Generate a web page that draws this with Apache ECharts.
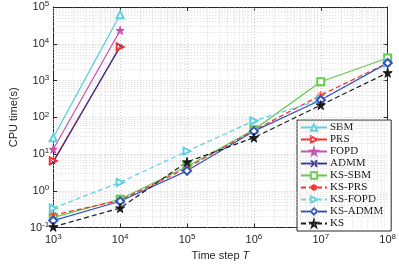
<!DOCTYPE html>
<html><head><meta charset="utf-8">
<script src="https://cdn.jsdelivr.net/npm/echarts@6/dist/echarts.min.js"></script>
<style>html,body{margin:0;padding:0;background:#fff}#c{width:399px;height:266px}</style>
</head><body><div id="c"></div>
<script>
const steps = [1e3, 1e4, 1e5, 1e6, 1e7, 1e8];
const xTicks = [1e3, 1e4, 1e5, 1e6, 1e7, 1e8];
const yTicks = [1e-1, 1e0, 1e1, 1e2, 1e3, 1e4, 1e5];
const SBM = [28, 62000];
const PRS = [6.5, 8200];
const FOPD = [13.5, 23000];
const ADMM = [6.0, 8500];
const KS_SBM = [0.19, 0.59, 4.6, 46, 930, 4100];
const KS_PRS = [0.22, 0.55, 4.2, 44, 400, 3000];
const KS_FOPD = [0.34, 1.7, 12, 80, 300, 3000];
const KS_ADMM = [0.155, 0.52, 3.5, 42, 295, 3000];
const KS = [0.105, 0.34, 6.1, 28, 215, 1630];

const pair = (arr) => arr.map((v, i) => [steps[i], v]);
const minorX = [], minorY = [];
for (let e = 3; e < 8; e++) for (let k = 2; k <= 9; k++) minorX.push(k * Math.pow(10, e));
for (let e = -1; e < 5; e++) for (let k = 2; k <= 9; k++) minorY.push(k * Math.pow(10, e));

const asterisk = 'path://M5,0L5,10M0,5L10,5M1.5,1.5L8.5,8.5M8.5,1.5L1.5,8.5';
const xmark = 'path://M0,0L10,10M10,0L0,10';
const star = 'path://M50,0L61,35L98,35L68,57L79,91L50,70L21,91L32,57L2,35L39,35Z';
const txt = '#262626';
const supFmt = (v) => '{b|10}{s|' + Math.round(Math.log10(v)) + '}';
const rich = { b: { fontSize: 11, color: txt, fontFamily: 'Liberation Sans' }, s: { fontSize: 8, color: txt, fontFamily: 'Liberation Sans', verticalAlign: 'top', padding: [0, 0, 6, 0] } };

function S(name, data, color, symbol, opts) {
  opts = opts || {};
  return {
    name, type: 'line', data: pair(data), symbol, symbolSize: opts.size || 7,
    symbolRotate: opts.rot || 0, showAllSymbol: true,
    lineStyle: { color, width: 1.2, type: opts.dash ? [5, 3] : 'solid' },
    itemStyle: { color, borderColor: color, borderWidth: 1 },
    z: 5
  };
}

const series = [
  S('SBM', SBM, '#5cd0e3', 'emptyTriangle'),
  S('PRS', PRS, '#ff2a2a', 'emptyTriangle', { rot: -90 }),
  S('FOPD', FOPD, '#c64fae', star, { size: 8 }),
  S('ADMM', ADMM, '#34349a', xmark, { size: 4 }),
  S('KS-SBM', KS_SBM, '#62c94a', 'emptyRect', { size: 7 }),
  S('KS-PRS', KS_PRS, '#ff2a2a', asterisk, { dash: true, size: 8 }),
  S('KS-FOPD', KS_FOPD, '#5cd0e3', 'emptyTriangle', { dash: true, rot: -90 }),
  S('KS-ADMM', KS_ADMM, '#3352c0', 'emptyDiamond', { size: 8 }),
  S('KS', KS, '#1a1a1a', star, { dash: true, size: 9 })
];

const gridLine = { color: '#cfcfcf', width: 0.8, type: [1, 2] };
series.push({
  type: 'line', data: [], silent: true, z: 1,
  markLine: { silent: true, symbol: 'none', animation: false, label: { show: false }, lineStyle: gridLine,
    data: minorX.map(v => ({ xAxis: v })).concat(minorY.map(v => ({ yAxis: v }))) }
});

const chart = echarts.init(document.getElementById('c'), null, { renderer: 'canvas' });
chart.setOption({
  animation: false,
  backgroundColor: '#fff',
  grid: { left: 43, right: 10, top: 6, bottom: 35 },
  legend: {
    orient: 'vertical', left: 297, top: 120, width: 92,
    itemWidth: 26, itemHeight: 8, itemGap: 1,
    padding: [2, 8, 2, 3],
    backgroundColor: '#fff', borderColor: '#262626', borderWidth: 1,
    textStyle: { fontFamily: 'Liberation Serif', fontSize: 11, lineHeight: 10.5, color: '#111', padding: [0, 0, 0, -2] },
    data: series.slice(0, 9).map(s => s.name)
  },
  xAxis: [{
    type: 'log', logBase: 10, min: 1e3, max: 1e8,
    name: '{a|Time step }{i|T}', nameLocation: 'middle', nameGap: 21,
    nameTextStyle: { rich: { a: { fontSize: 11, color: txt, fontFamily: 'Liberation Sans' }, i: { fontSize: 11, color: txt, fontFamily: 'Liberation Sans', fontStyle: 'italic' } } },
    axisLine: { lineStyle: { color: txt, width: 1 } },
    axisTick: { inside: true, length: 4, lineStyle: { color: txt } },
    axisLabel: { formatter: supFmt, rich, margin: 5 },
    splitLine: { show: true, lineStyle: { color: '#c4c4c4', width: 0.8, type: [1, 2] } }
  }, {
    type: 'log', logBase: 10, min: 1e3, max: 1e8, position: 'top',
    axisLine: { lineStyle: { color: txt, width: 1 } },
    axisTick: { inside: true, length: 4, lineStyle: { color: txt } },
    axisLabel: { show: false }, splitLine: { show: false }
  }],
  yAxis: [{
    type: 'log', logBase: 10, min: 1e-1, max: 1e5,
    name: 'CPU time(s)', nameLocation: 'middle', nameGap: 31,
    nameTextStyle: { fontSize: 11, color: txt, fontFamily: 'Liberation Sans' },
    axisLine: { lineStyle: { color: txt, width: 1 } },
    axisTick: { inside: true, length: 4, lineStyle: { color: txt } },
    axisLabel: { formatter: supFmt, rich, margin: 4 },
    splitLine: { show: true, lineStyle: { color: '#c4c4c4', width: 0.8, type: [1, 2] } }
  }, {
    type: 'log', logBase: 10, min: 1e-1, max: 1e5, position: 'right',
    axisLine: { show: true, lineStyle: { color: txt, width: 1 } },
    axisTick: { show: true, inside: true, length: 4, lineStyle: { color: txt } },
    axisLabel: { show: false }, splitLine: { show: false }
  }],
  series
});
</script></body></html>
